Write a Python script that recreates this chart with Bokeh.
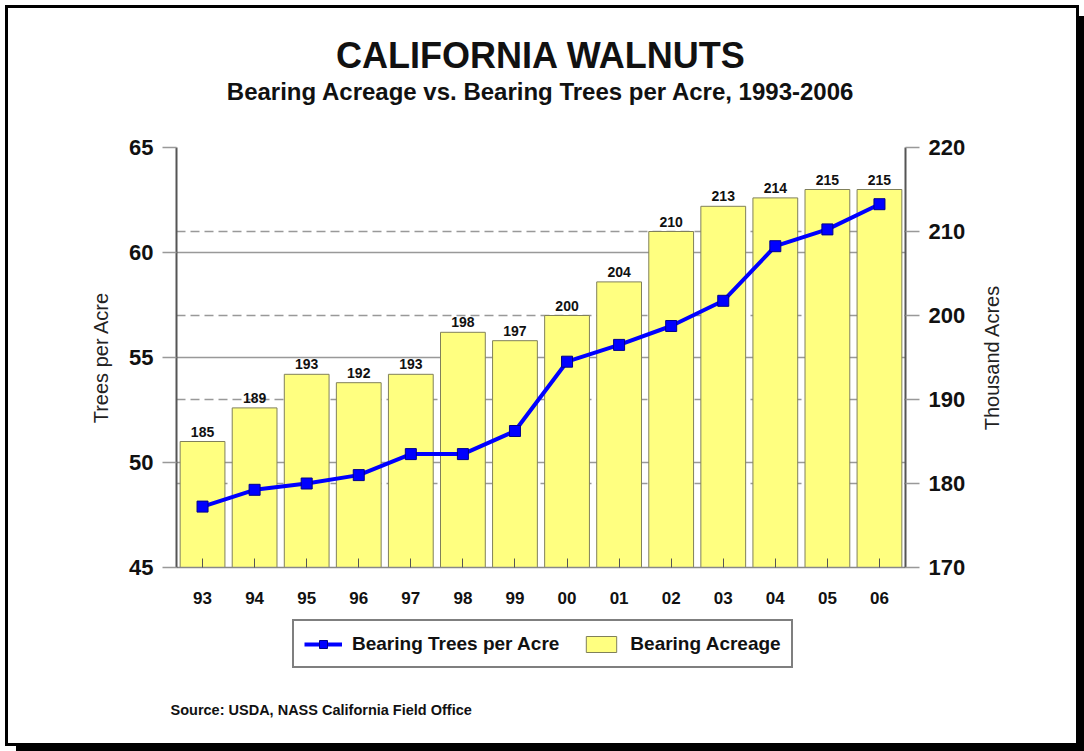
import math
from bokeh.plotting import figure
from bokeh.layouts import column, row
from bokeh.models import (FactorRange, Range1d, LinearAxis, FixedTicker, Grid,
                          ColumnDataSource, LabelSet, Label, Legend, LegendItem, Title)
from bokeh.core.properties import value
from bokeh.embed import file_html
from bokeh.resources import INLINE

# ---- data ----
years = ["93", "94", "95", "96", "97", "98", "99", "00", "01", "02", "03", "04", "05", "06"]
acreage = [185, 189, 193, 192, 193, 198, 197, 200, 204, 210, 213, 214, 215, 215]
trees_per_acre = [47.9, 48.7, 49.0, 49.4, 50.4, 50.4, 51.5, 54.8, 55.6, 56.5, 57.7, 60.3, 61.1, 62.3]
left_ticks = [45, 50, 55, 60, 65]
right_ticks = [170, 180, 190, 200, 210, 220]

FONT = "Liberation Sans"
BAR_FILL = "#ffff80"
BAR_LINE = "#80805a"
LINE_COLOR = "#0000ff"

# ================= main chart =================
p = figure(width=962, height=605,
           x_range=FactorRange(factors=years, range_padding=0),
           y_range=Range1d(45, 65),
           output_backend="svg", toolbar_location=None,
           min_border_left=168, min_border_right=65,
           min_border_top=139, min_border_bottom=46)
p.frame_align = False
p.title_location = None
p.extra_y_ranges = {"acres": Range1d(170, 220)}
p.outline_line_color = None
p.background_fill_color = "white"
p.border_fill_color = "white"

# grids
p.xgrid.visible = False
p.ygrid.ticker = FixedTicker(ticks=[50, 55, 60, 65])
p.ygrid.grid_line_color = "#999999"
p.ygrid.grid_line_width = 1.5
g2 = Grid(dimension=1, y_range_name="acres",
          ticker=FixedTicker(ticks=[180, 190, 200, 210]),
          grid_line_color="#999999", grid_line_dash="9 5", grid_line_width=1.5)
p.add_layout(g2)

src = ColumnDataSource(dict(year=years, acres=acreage,
                            label=[str(a) for a in acreage],
                            trees=trees_per_acre))

bars = p.vbar(x="year", top="acres", bottom=170, width=0.86, y_range_name="acres",
              fill_color=BAR_FILL, line_color=BAR_LINE, line_width=1, source=src)
line = p.line(x="year", y="trees", line_color=LINE_COLOR, line_width=4, source=src)
sq = p.scatter(x="year", y="trees", marker="square", size=11,
               fill_color=LINE_COLOR, line_color="#00008b", source=src)

labels = LabelSet(x="year", y="acres", text="label", y_range_name="acres", y_offset=5,
                  text_align="center", text_baseline="bottom",
                  text_font=value(FONT), text_font_style="bold", text_font_size="14px",
                  text_color="#111111", source=src)
p.add_layout(labels)

# left axis
yl = p.yaxis[0]
yl.ticker = FixedTicker(ticks=left_ticks)
yl.axis_line_color = "#555555"
yl.axis_line_width = 2
yl.major_tick_out = 14
yl.major_tick_in = 0
yl.minor_tick_line_color = None
yl.major_tick_line_color = "#999999"
yl.major_tick_line_width = 1.5
yl.major_label_standoff = 9
yl.major_label_text_font = FONT
yl.major_label_text_font_style = "bold"
yl.major_label_text_font_size = "22px"
yl.major_label_text_color = "#111111"
yl.axis_label = "Trees per Acre"
yl.axis_label_standoff = 14
yl.axis_label_text_font = FONT
yl.axis_label_text_font_style = "normal"
yl.axis_label_text_font_size = "20px"
yl.axis_label_text_color = "#222222"

# right axis
ra = LinearAxis(y_range_name="acres", ticker=FixedTicker(ticks=right_ticks))
ra.axis_line_color = "#555555"
ra.axis_line_width = 2
ra.major_tick_out = 14
ra.major_tick_in = 0
ra.minor_tick_line_color = None
ra.major_tick_line_color = "#999999"
ra.major_tick_line_width = 1.5
ra.major_label_standoff = 9
ra.major_label_text_font = FONT
ra.major_label_text_font_style = "bold"
ra.major_label_text_font_size = "22px"
ra.major_label_text_color = "#111111"
p.add_layout(ra, "right")

# x axis
xa = p.xaxis[0]
xa.axis_line_color = "#888888"
xa.axis_line_width = 1.5
xa.major_tick_in = 9
xa.major_tick_out = 0
xa.major_tick_line_color = "#555555"
xa.major_tick_line_width = 1
xa.major_label_standoff = 24
xa.major_label_text_font = FONT
xa.major_label_text_font_style = "bold"
xa.major_label_text_font_size = "17px"
xa.major_label_text_color = "#111111"

# titles (spacer closest to the frame, then subtitle, then main title)
p.add_layout(Title(text=" ", text_font_size="10px", standoff=30), "above")
p.add_layout(Title(text="Bearing Acreage vs. Bearing Trees per Acre, 1993-2006",
                   align="center", vertical_align="bottom", standoff=0,
                   text_font=FONT, text_font_style="bold", text_font_size="24px",
                   text_color="#111111"), "above")
p.add_layout(Title(text="CALIFORNIA WALNUTS",
                   align="center", vertical_align="bottom", standoff=0,
                   text_font=FONT, text_font_style="bold", text_font_size="36px",
                   text_color="#111111"), "above")

# ================= right-hand axis title strip =================
W_R, H_R = 106, 605
r = figure(width=W_R, height=H_R, x_range=Range1d(0, W_R), y_range=Range1d(0, H_R),
           output_backend="svg", toolbar_location=None, min_border=0,
           x_axis_location=None, y_axis_location=None)
r.frame_align = False
r.title_location = None
r.outline_line_color = None
r.grid.visible = False
r.background_fill_color = "white"
r.border_fill_color = "white"
r.add_layout(Label(x=21, y=256, text="Thousand Acres", angle=math.pi / 2,
                   text_align="center", text_baseline="middle",
                   text_font=FONT, text_font_style="normal", text_font_size="20px",
                   text_color="#222222"))

# ================= legend + source strip =================
W_B, H_B = 1068, 130
q = figure(width=W_B, height=H_B, x_range=Range1d(0, W_B), y_range=Range1d(0, H_B),
           output_backend="svg", toolbar_location=None, min_border=0,
           x_axis_location=None, y_axis_location=None)
q.frame_align = False
q.title_location = None
q.outline_line_color = None
q.grid.visible = False
q.background_fill_color = "white"
q.border_fill_color = "white"
# off-screen ranges: the legend proxies reuse the chart's data but fall outside the strip
q.extra_x_ranges = {"offx": Range1d(5000, 6000)}
q.extra_y_ranges = {"offy": Range1d(5000, 6000)}

l_line = q.line(x="acres", y="trees", x_range_name="offx", y_range_name="offy", source=src,
                line_color=LINE_COLOR, line_width=4)
l_sq = q.scatter(x="acres", y="trees", x_range_name="offx", y_range_name="offy", source=src,
                 marker="square", size=11, fill_color=LINE_COLOR, line_color="#00008b")
l_bar = q.vbar(x="acres", top="trees", bottom=40, x_range_name="offx", y_range_name="offy",
               source=src, width=1,
               fill_color=BAR_FILL, line_color=BAR_LINE, line_width=1)

legend = Legend(items=[LegendItem(label="Bearing Trees per Acre", renderers=[l_line, l_sq]),
                       LegendItem(label="Bearing Acreage", renderers=[l_bar])],
                location=(284, 75), orientation="horizontal",
                border_line_color="black", border_line_width=2,
                background_fill_color="white", background_fill_alpha=1.0,
                padding=10, spacing=23, label_standoff=10, margin=0,
                glyph_width=38, glyph_height=20, label_height=25,
                label_text_font=FONT, label_text_font_style="bold",
                label_text_font_size="19px", label_text_color="#111111")
q.add_layout(legend)

q.add_layout(Label(x=162, y=34, text="Source: USDA, NASS California Field Office",
                   text_align="left", text_baseline="middle",
                   text_font=FONT, text_font_style="bold", text_font_size="14.5px",
                   text_color="#111111"))

layout = column(row(p, r, spacing=0), q, spacing=0)
layout.margin = (8, 0, 0, 8)
layout.styles = {"outline": "3px solid black", "box-shadow": "8px 8px 0 0 black"}

open("out.html", "w").write(file_html(layout, INLINE))
